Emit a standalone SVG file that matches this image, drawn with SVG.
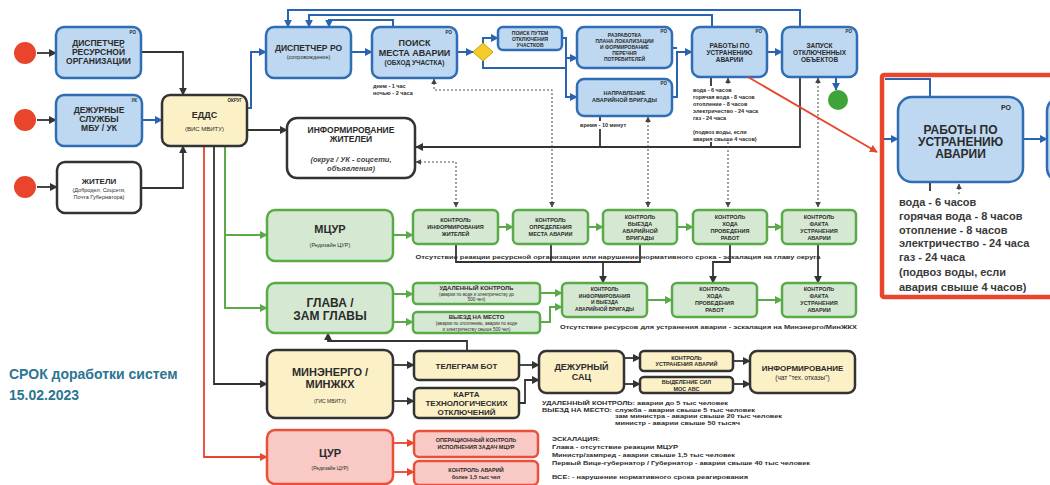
<svg xmlns="http://www.w3.org/2000/svg" width="1050" height="485" viewBox="0 0 1050 485">
<defs>
<style>
.t{font-family:"Liberation Sans",Arial,sans-serif;font-weight:bold;fill:#2b2b2b;text-anchor:middle}
.n{font-weight:normal}
.l{text-anchor:start}
.e{text-anchor:end}
.tag{font-size:4.5px;font-weight:bold}
.bl{fill:#bdd8f0;stroke:#2f6db5;stroke-width:2.5}
.gr{fill:#d5e9d2;stroke:#5aaa4a;stroke-width:2.5}
.ye{fill:#fbf0c6;stroke:#333;stroke-width:2.5}
.wh{fill:#fff;stroke:#333;stroke-width:2.5}
.pk{fill:#f8c9c5;stroke:#e8503a;stroke-width:2.5}
.cb{fill:none;stroke:#2a64b0;stroke-width:2}
.ck{fill:none;stroke:#333;stroke-width:1.8}
.cg{fill:none;stroke:#5aaa4a;stroke-width:2}
.cr{fill:none;stroke:#e8452c;stroke-width:1.8}
.cd{fill:none;stroke:#555;stroke-width:1.1;stroke-dasharray:2 2}
</style>
<marker id="ab" viewBox="0 0 10 10" refX="9" refY="5" markerWidth="8" markerHeight="8" markerUnits="userSpaceOnUse" orient="auto"><path d="M0,0 L10,5 L0,10 z" fill="#2a64b0"/></marker>
<marker id="ak" viewBox="0 0 10 10" refX="9" refY="5" markerWidth="8" markerHeight="8" markerUnits="userSpaceOnUse" orient="auto"><path d="M0,0 L10,5 L0,10 z" fill="#333"/></marker>
<marker id="ag" viewBox="0 0 10 10" refX="9" refY="5" markerWidth="8" markerHeight="8" markerUnits="userSpaceOnUse" orient="auto"><path d="M0,0 L10,5 L0,10 z" fill="#5aaa4a"/></marker>
<marker id="ar" viewBox="0 0 10 10" refX="9" refY="5" markerWidth="8" markerHeight="8" markerUnits="userSpaceOnUse" orient="auto"><path d="M0,0 L10,5 L0,10 z" fill="#e8452c"/></marker>
<marker id="ad" viewBox="0 0 10 10" refX="9" refY="5" markerWidth="6" markerHeight="6" markerUnits="userSpaceOnUse" orient="auto-start-reverse"><path d="M0,0 L10,5 L0,10 z" fill="#444"/></marker>
</defs>
<rect width="1050" height="485" fill="#fff"/>

<g id="connectors">
<path class="ck" d="M37,53 H56" marker-end="url(#ak)"/>
<path class="ck" d="M37,120 H56" marker-end="url(#ak)"/>
<path class="ck" d="M37,187 H57" marker-end="url(#ak)"/>
<path class="ck" d="M141,52 H183 V95" marker-end="url(#ak)"/>
<path class="cb" d="M142,120 H162" marker-end="url(#ab)"/>
<path class="ck" d="M141,188 H183 V146" marker-end="url(#ak)"/>
<path class="cb" d="M247,108 H251 V52 H266" marker-end="url(#ab)"/>
<path class="ck" d="M247,130 H287" marker-end="url(#ak)"/>
<path class="cg" d="M225,146 V308 H267" marker-end="url(#ag)"/>
<path class="cg" d="M225,235 H267" marker-end="url(#ag)"/>
<path class="ck" d="M214,146 V384 H267" marker-end="url(#ak)"/>
<path class="cr" d="M204,146 V457 H267" marker-end="url(#ar)"/>
<path class="cb" d="M351,52 H372" marker-end="url(#ab)"/>
<path class="cb" d="M457,52 H473" marker-end="url(#ab)"/>
<path class="cb" d="M483,43 V38 H498" marker-end="url(#ab)"/>
<path class="cb" d="M483,61 V68 H566"/>
<path class="cb" d="M562,38 H566 V97 H577" marker-end="url(#ab)"/>
<path class="cb" d="M566,58 H577" marker-end="url(#ab)"/>
<path class="cb" d="M672,97 H677 V52 H692" marker-end="url(#ab)"/>
<path class="cb" d="M672,48 H677"/>
<path class="cb" d="M767,52 H782" marker-end="url(#ab)"/>
<path class="cb" d="M836,77 V90" marker-end="url(#ab)"/>
<path class="cb" d="M800,27 V10 H288 V27" marker-end="url(#ab)"/>
<path class="cb" d="M712,27 V15 H309 V27" marker-end="url(#ab)"/>
<path class="cb" d="M393,27 V20 H329 V27" marker-end="url(#ab)"/>
<path class="ck" d="M800,77 V147 H416" marker-end="url(#ak)"/>
<path class="ck" d="M711,77 V147 M600,116 V147" stroke-width="2.2"/>
<path class="cd" d="M434,79 V90 H552 V207" marker-start="url(#ad)" marker-end="url(#ad)"/>
<path class="cd" d="M416,162 H456 V207" marker-start="url(#ad)" marker-end="url(#ad)"/>
<path class="cd" d="M648,117 V207" marker-start="url(#ad)" marker-end="url(#ad)"/>
<path class="cd" d="M728,78 V207" marker-start="url(#ad)" marker-end="url(#ad)"/>
<path class="cd" d="M818,78 V207" marker-start="url(#ad)" marker-end="url(#ad)"/>
<path class="cg" d="M393,235 H413" marker-end="url(#ag)"/>
<path class="cg" d="M498,227 H513" marker-end="url(#ag)"/>
<path class="cg" d="M588,227 H603" marker-end="url(#ag)"/>
<path class="cg" d="M677,227 H693" marker-end="url(#ag)"/>
<path class="cg" d="M767,227 H782" marker-end="url(#ag)"/>
<path class="ck" d="M456,244 V262 H640 V244 M551,244 V262" stroke-width="1.3"/>
<path class="ck" d="M603,262 V283" stroke-width="1.3" marker-end="url(#ak)"/>
<path class="ck" d="M730,244 V262 H713 V283" stroke-width="1.3" marker-end="url(#ak)"/>
<path class="ck" d="M818,244 V283" stroke-width="1.3" marker-end="url(#ak)"/>
<path class="cg" d="M393,294 H413" marker-end="url(#ag)"/>
<path class="cg" d="M393,322 H413" marker-end="url(#ag)"/>
<path class="cg" d="M540,293 H562" marker-end="url(#ag)"/>
<path class="cg" d="M540,322 H550 V307 H562" marker-end="url(#ag)"/>
<path class="cg" d="M647,300 H672" marker-end="url(#ag)"/>
<path class="cg" d="M757,300 H782" marker-end="url(#ag)"/>
<path class="ck" d="M467,351 V341 H328 V333" marker-end="url(#ak)"/>
<path class="ck" d="M393,365 H414" marker-end="url(#ak)"/>
<path class="ck" d="M393,401 H414" marker-end="url(#ak)"/>
<path class="ck" d="M519,365 H539" marker-end="url(#ak)"/>
<path class="ck" d="M519,403 H525 V380 H539" marker-end="url(#ak)"/>
<path class="ck" d="M624,358 H640" marker-end="url(#ak)"/>
<path class="ck" d="M624,384 H640" marker-end="url(#ak)"/>
<path class="ck" d="M733,361 H750" marker-end="url(#ak)"/>
<path class="ck" d="M733,384 H750" marker-end="url(#ak)"/>
<path class="cr" d="M393,443 H414" marker-end="url(#ar)"/>
<path class="cr" d="M393,472 H414" marker-end="url(#ar)"/>
</g>

<g id="start-circles">
<circle cx="25" cy="53" r="11" fill="#e8452c"/>
<circle cx="25" cy="120" r="11" fill="#e8452c"/>
<circle cx="25" cy="187" r="11" fill="#e8452c"/>
</g>

<g id="disp-res">
<rect class="bl" x="56" y="27" width="85" height="51" rx="8"/>
<text class="t tag e" x="136" y="34">РО</text>
<text class="t" x="98.5" y="46" font-size="8.5">ДИСПЕТЧЕР</text>
<text class="t" x="98.5" y="55" font-size="8.5">РЕСУРСНОЙ</text>
<text class="t" x="98.5" y="64" font-size="8.5">ОРГАНИЗАЦИИ</text>
</g>
<g id="dezhurnye">
<rect class="bl" x="56" y="95" width="86" height="51" rx="8"/>
<text class="t tag e" x="137" y="102">УК</text>
<text class="t" x="99" y="113" font-size="8.5">ДЕЖУРНЫЕ</text>
<text class="t" x="99" y="122" font-size="8.5">СЛУЖБЫ</text>
<text class="t" x="99" y="131" font-size="8.5">МБУ / УК</text>
</g>
<g id="zhiteli">
<rect class="wh" x="57" y="162" width="84" height="51" rx="8"/>
<text class="t" x="99" y="184" font-size="8">ЖИТЕЛИ</text>
<text class="t n" x="99" y="192" font-size="5.5">(Добродел, Соцсети,</text>
<text class="t n" x="99" y="199" font-size="5.5">Почта Губернатора)</text>
</g>
<g id="edds">
<rect class="ye" x="162" y="95" width="85" height="51" rx="8"/>
<text class="t tag e" x="242" y="102">ОКРУГ</text>
<text class="t" x="204.5" y="118" font-size="9">ЕДДС</text>
<text class="t n" x="204.5" y="131" font-size="6">(ВИС МВИТУ)</text>
</g>
<g id="disp-ro">
<rect class="bl" x="266" y="27" width="85" height="51" rx="8"/>
<text class="t" x="308.5" y="51" font-size="8.5">ДИСПЕТЧЕР РО</text>
<text class="t n" x="308.5" y="59" font-size="5.5">(сопровождение)</text>
</g>
<g id="poisk">
<rect class="bl" x="372" y="27" width="85" height="51" rx="8"/>
<text class="t tag e" x="452" y="34">РО</text>
<text class="t" x="414.5" y="46" font-size="9">ПОИСК</text>
<text class="t" x="414.5" y="56" font-size="9">МЕСТА АВАРИИ</text>
<text class="t" x="414.5" y="65" font-size="6.5">(ОБХОД УЧАСТКА)</text>
<text class="t l" x="373" y="88" font-size="5.5">днем - 1 час</text>
<text class="t l" x="373" y="95" font-size="5.5">ночью - 2 часа</text>
</g>
<g id="decision">
<polygon points="473,52 483,43 493,52 483,61" fill="#f5cc2a" stroke="#c9a200" stroke-width="1"/>
</g>
<g id="poisk-put">
<rect class="bl" x="498" y="27" width="64" height="23" rx="5" stroke-width="2"/>
<text class="t" x="530" y="35" font-size="5">ПОИСК ПУТЕМ</text>
<text class="t" x="530" y="41" font-size="5">ОТКЛЮЧЕНИЯ</text>
<text class="t" x="530" y="47" font-size="5">УЧАСТКОВ</text>
</g>
<g id="razrabotka">
<rect class="bl" x="577" y="27" width="95" height="41" rx="7"/>
<text class="t tag e" x="667" y="33">РО</text>
<text class="t" x="624.5" y="37" font-size="5">РАЗРАБОТКА</text>
<text class="t" x="624.5" y="43" font-size="5">ПЛАНА ЛОКАЛИЗАЦИИ</text>
<text class="t" x="624.5" y="49" font-size="5">И ФОРМИРОВАНИЕ</text>
<text class="t" x="624.5" y="55" font-size="5">ПЕРЕЧНЯ</text>
<text class="t" x="624.5" y="61" font-size="5">ПОТРЕБИТЕЛЕЙ</text>
</g>
<g id="napravlenie">
<rect class="bl" x="577" y="79" width="95" height="37" rx="7"/>
<text class="t tag e" x="667" y="85">РО</text>
<text class="t" x="624.5" y="95" font-size="5.5">НАПРАВЛЕНИЕ</text>
<text class="t" x="624.5" y="102" font-size="5.5">АВАРИЙНОЙ БРИГАДЫ</text>
<rect x="578" y="121" width="64" height="8" fill="#fff"/>
<text class="t l" x="580" y="127" font-size="5.5">время - 10 минут</text>
</g>
<g id="raboty">
<rect class="bl" x="692" y="27" width="75" height="50" rx="8"/>
<text class="t tag e" x="762" y="33">РО</text>
<text class="t" x="729.5" y="48" font-size="6.5">РАБОТЫ ПО</text>
<text class="t" x="729.5" y="55" font-size="6.5">УСТРАНЕНИЮ</text>
<text class="t" x="729.5" y="62" font-size="6.5">АВАРИИ</text>
<rect x="691" y="86" width="70" height="56" fill="#fff"/>
<text class="t l" x="693" y="92" font-size="5.5">вода - 6 часов</text>
<text class="t l" x="693" y="99" font-size="5.5">горячая вода - 8 часов</text>
<text class="t l" x="693" y="106" font-size="5.5">отопление - 8 часов</text>
<text class="t l" x="693" y="113" font-size="5.5">электричество - 24 часа</text>
<text class="t l" x="693" y="120" font-size="5.5">газ - 24 часа</text>
<text class="t l" x="693" y="134" font-size="5.5">(подвоз воды, если</text>
<text class="t l" x="693" y="141" font-size="5.5">авария свыше 4 часов)</text>
</g>
<g id="zoom-pointer">
<path class="cr" d="M748,77 L877,152" stroke-width="1.5" marker-end="url(#ar)"/>
</g>
<g id="zapusk">
<rect class="bl" x="782" y="27" width="75" height="50" rx="8"/>
<text class="t tag e" x="852" y="33">РО</text>
<text class="t" x="819.5" y="48" font-size="6.5">ЗАПУСК</text>
<text class="t" x="819.5" y="55" font-size="6.5">ОТКЛЮЧЕННЫХ</text>
<text class="t" x="819.5" y="62" font-size="6.5">ОБЪЕКТОВ</text>
</g>
<g id="end">
<circle cx="838" cy="100" r="10" fill="#3fa33a"/>
</g>
<g id="inform-zhiteley">
<rect class="wh" x="287" y="118" width="128" height="60" rx="10"/>
<text class="t" x="351" y="133" font-size="8.5">ИНФОРМИРОВАНИЕ</text>
<text class="t" x="351" y="142" font-size="8.5">ЖИТЕЛЕЙ</text>
<text class="t" x="351" y="162" font-size="7.5" font-style="italic" style="fill:#444">(округ / УК - соцсети,</text>
<text class="t" x="351" y="171" font-size="7.5" font-style="italic" style="fill:#444">объявления)</text>
</g>

<g id="mcur">
<rect class="gr" x="267" y="210" width="126" height="51" rx="8"/>
<text class="t" x="330" y="233" font-size="11">МЦУР</text>
<text class="t n" x="330" y="247" font-size="5.5">(Редизайн ЦУР)</text>
</g>
<g id="k-inf">
<rect class="gr" x="413" y="210" width="85" height="34" rx="5"/>
<text class="t" x="455.5" y="222" font-size="5.5">КОНТРОЛЬ</text>
<text class="t" x="455.5" y="229" font-size="5.5">ИНФОРМИРОВАНИЯ</text>
<text class="t" x="455.5" y="236" font-size="5.5">ЖИТЕЛЕЙ</text>
</g>
<g id="k-opred">
<rect class="gr" x="513" y="210" width="75" height="34" rx="5"/>
<text class="t" x="550.5" y="222" font-size="5.5">КОНТРОЛЬ</text>
<text class="t" x="550.5" y="229" font-size="5.5">ОПРЕДЕЛЕНИЯ</text>
<text class="t" x="550.5" y="236" font-size="5.5">МЕСТА АВАРИИ</text>
</g>
<g id="k-vyezda">
<rect class="gr" x="603" y="210" width="74" height="34" rx="5"/>
<text class="t" x="640" y="219" font-size="5.5">КОНТРОЛЬ</text>
<text class="t" x="640" y="226" font-size="5.5">ВЫЕЗДА</text>
<text class="t" x="640" y="233" font-size="5.5">АВАРИЙНОЙ</text>
<text class="t" x="640" y="240" font-size="5.5">БРИГАДЫ</text>
</g>
<g id="k-hoda">
<rect class="gr" x="693" y="210" width="74" height="34" rx="5"/>
<text class="t" x="730" y="219" font-size="5.5">КОНТРОЛЬ</text>
<text class="t" x="730" y="226" font-size="5.5">ХОДА</text>
<text class="t" x="730" y="233" font-size="5.5">ПРОВЕДЕНИЯ</text>
<text class="t" x="730" y="240" font-size="5.5">РАБОТ</text>
</g>
<g id="k-fakta">
<rect class="gr" x="782" y="210" width="74" height="34" rx="5"/>
<text class="t" x="819" y="219" font-size="5.5">КОНТРОЛЬ</text>
<text class="t" x="819" y="226" font-size="5.5">ФАКТА</text>
<text class="t" x="819" y="233" font-size="5.5">УСТРАНЕНИЯ</text>
<text class="t" x="819" y="240" font-size="5.5">АВАРИИ</text>
</g>
<text class="t" x="618" y="259" font-size="6" textLength="405" lengthAdjust="spacingAndGlyphs">Отсутствие реакции ресурсной организации или нарушение нормативного срока - эскалация на главу округа</text>

<g id="glava">
<rect class="gr" x="267" y="283" width="126" height="50" rx="8"/>
<text class="t" x="330" y="307" font-size="12">ГЛАВА /</text>
<text class="t" x="330" y="320" font-size="12">ЗАМ ГЛАВЫ</text>
</g>
<g id="udal">
<rect class="gr" x="413" y="283" width="127" height="21" rx="4" stroke-width="2"/>
<text class="t" x="476.5" y="290" font-size="6">УДАЛЕННЫЙ КОНТРОЛЬ</text>
<text class="t n" x="476.5" y="296" font-size="4.5">(аварии по воде и электричеству до</text>
<text class="t n" x="476.5" y="301" font-size="4.5">500 чел)</text>
</g>
<g id="vyezd">
<rect class="gr" x="413" y="312" width="127" height="21" rx="4" stroke-width="2"/>
<text class="t" x="476.5" y="319" font-size="6">ВЫЕЗД НА МЕСТО</text>
<text class="t n" x="476.5" y="325" font-size="4.5">(аварии по отоплению, аварии по воде</text>
<text class="t n" x="476.5" y="330.5" font-size="4.5">и электричеству свыше 500 чел)</text>
</g>
<g id="k-inf-vyezd">
<rect class="gr" x="562" y="283" width="85" height="34" rx="5"/>
<text class="t" x="604.5" y="291" font-size="5">КОНТРОЛЬ</text>
<text class="t" x="604.5" y="297.5" font-size="5">ИНФОРМИРОВАНИЯ</text>
<text class="t" x="604.5" y="304" font-size="5">И ВЫЕЗДА</text>
<text class="t" x="604.5" y="310.5" font-size="5">АВАРИЙНОЙ БРИГАДЫ</text>
</g>
<g id="k-hoda-2">
<rect class="gr" x="672" y="283" width="85" height="34" rx="5"/>
<text class="t" x="714.5" y="291" font-size="5.5">КОНТРОЛЬ</text>
<text class="t" x="714.5" y="298" font-size="5.5">ХОДА</text>
<text class="t" x="714.5" y="305" font-size="5.5">ПРОВЕДЕНИЯ</text>
<text class="t" x="714.5" y="312" font-size="5.5">РАБОТ</text>
</g>
<g id="k-fakta-2">
<rect class="gr" x="782" y="283" width="74" height="34" rx="5"/>
<text class="t" x="819" y="291" font-size="5.5">КОНТРОЛЬ</text>
<text class="t" x="819" y="298" font-size="5.5">ФАКТА</text>
<text class="t" x="819" y="305" font-size="5.5">УСТРАНЕНИЯ</text>
<text class="t" x="819" y="312" font-size="5.5">АВАРИИ</text>
</g>
<text class="t l" x="560" y="329" font-size="6" textLength="297" lengthAdjust="spacingAndGlyphs">Отсутствие ресурсов для устранения аварии - эскалация на Минэнерго/МинЖКХ</text>

<g id="minenergo">
<rect class="ye" x="267" y="350" width="126" height="68" rx="9"/>
<text class="t" x="330" y="376" font-size="11">МИНЭНЕРГО /</text>
<text class="t" x="330" y="388" font-size="11">МИНЖКХ</text>
<text class="t n" x="330" y="403" font-size="5">(ГИС МВИТУ)</text>
</g>
<g id="telegram">
<rect class="ye" x="414" y="351" width="105" height="29" rx="5"/>
<text class="t" x="466.5" y="369" font-size="8">ТЕЛЕГРАМ БОТ</text>
</g>
<g id="karta">
<rect class="ye" x="414" y="388" width="105" height="30" rx="5"/>
<text class="t" x="466.5" y="397" font-size="8">КАРТА</text>
<text class="t" x="466.5" y="406" font-size="8">ТЕХНОЛОГИЧЕСКИХ</text>
<text class="t" x="466.5" y="415" font-size="8">ОТКЛЮЧЕНИЙ</text>
</g>
<g id="sac">
<rect class="ye" x="539" y="351" width="85" height="42" rx="7"/>
<text class="t" x="581.5" y="370" font-size="9">ДЕЖУРНЫЙ</text>
<text class="t" x="581.5" y="380" font-size="9">САЦ</text>
</g>
<g id="k-ustr">
<rect class="ye" x="640" y="351" width="93" height="20" rx="4" stroke-width="2"/>
<text class="t" x="686.5" y="359.5" font-size="5.5">КОНТРОЛЬ</text>
<text class="t" x="686.5" y="366" font-size="5.5">УСТРАНЕНИЯ АВАРИЙ</text>
</g>
<g id="vydelenie">
<rect class="ye" x="640" y="377" width="93" height="16" rx="4" stroke-width="2"/>
<text class="t" x="686.5" y="384" font-size="5.5">ВЫДЕЛЕНИЕ СИЛ</text>
<text class="t" x="686.5" y="390.5" font-size="5.5">МОС АВС</text>
</g>
<g id="inform-chat">
<rect class="ye" x="750" y="351" width="105" height="42" rx="7"/>
<text class="t" x="802.5" y="371" font-size="8">ИНФОРМИРОВАНИЕ</text>
<text class="t n" x="802.5" y="380" font-size="6.5">(чат "тех. отказы")</text>
</g>
<g id="sac-notes">
<text class="t l" x="542" y="405" font-size="5.5" textLength="186" lengthAdjust="spacingAndGlyphs">УДАЛЕННЫЙ КОНТРОЛЬ: аварии до 5 тыс человек</text>
<text class="t l" x="542" y="411.5" font-size="5.5" textLength="70" lengthAdjust="spacingAndGlyphs">ВЫЕЗД НА МЕСТО:</text>
<text class="t l" x="615" y="411.5" font-size="5.5" textLength="140" lengthAdjust="spacingAndGlyphs">служба - аварии свыше 5 тыс человек</text>
<text class="t l" x="615" y="418" font-size="5.5" textLength="167" lengthAdjust="spacingAndGlyphs">зам министра - аварии свыше 20 тыс человек</text>
<text class="t l" x="615" y="425" font-size="5.5" textLength="125" lengthAdjust="spacingAndGlyphs">министр - аварии свыше 50 тысяч</text>
</g>

<g id="cur">
<rect class="pk" x="267" y="430" width="126" height="54" rx="8"/>
<text class="t" x="330" y="457" font-size="11">ЦУР</text>
<text class="t n" x="330" y="470" font-size="5">(Редизайн ЦУР)</text>
</g>
<g id="oper-kontrol">
<rect class="pk" x="414" y="431" width="124" height="26" rx="5"/>
<text class="t" x="476" y="442" font-size="5.5">ОПЕРАЦИОННЫЙ КОНТРОЛЬ</text>
<text class="t" x="476" y="449" font-size="5.5">ИСПОЛНЕНИЯ ЗАДАЧ МЦУР</text>
</g>
<g id="k-avariy">
<rect class="pk" x="414" y="461" width="124" height="24" rx="5"/>
<text class="t" x="476" y="472" font-size="5.5">КОНТРОЛЬ АВАРИЙ</text>
<text class="t" x="476" y="479" font-size="5.5">более 1,5 тыс чел</text>
</g>
<g id="escalation-notes">
<text class="t l" x="552" y="441" font-size="5.5" textLength="48" lengthAdjust="spacingAndGlyphs">ЭСКАЛАЦИЯ:</text>
<text class="t l" x="552" y="449" font-size="5.5" textLength="126" lengthAdjust="spacingAndGlyphs">Глава - отсутствие реакции МЦУР</text>
<text class="t l" x="552" y="457" font-size="5.5" textLength="183" lengthAdjust="spacingAndGlyphs">Министр/зампред - аварии свыше 1,5 тыс человек</text>
<text class="t l" x="552" y="465" font-size="5.5" textLength="258" lengthAdjust="spacingAndGlyphs">Первый Вице-губернатор / Губернатор - аварии свыше 40 тыс человек</text>
<text class="t l" x="552" y="479" font-size="5.5" textLength="196" lengthAdjust="spacingAndGlyphs">ВСЕ: - нарушение нормативного срока реагирования</text>
</g>

<g id="deadline">
<text class="t l" x="9" y="379" font-size="14" style="fill:#2c7592">СРОК доработки систем</text>
<text class="t l" x="9" y="400" font-size="14" style="fill:#2c7592">15.02.2023</text>
</g>

<g id="zoom-panel">
<rect x="882" y="75" width="200" height="222" rx="2" fill="#fff" stroke="#e8452c" stroke-width="4.5"/>
<path class="cb" d="M930,97 V79 H885" stroke-width="2.5"/>
<path class="cb" d="M884,139 H898" stroke-width="2.5" marker-end="url(#ab)"/>
<path class="cb" d="M1023,139 H1047" stroke-width="2.5" marker-end="url(#ab)"/>
<path class="ck" d="M930,182 V191" stroke-width="3"/>
<path class="cd" d="M959,184 V195" marker-start="url(#ad)"/>
<rect class="bl" x="898" y="97" width="125" height="85" rx="14" stroke-width="3"/>
<rect class="bl" x="1047" y="97" width="40" height="85" rx="14" stroke-width="3"/>
<text class="t e" x="1011" y="110" font-size="7">РО</text>
<text class="t" x="960.5" y="134" font-size="12">РАБОТЫ ПО</text>
<text class="t" x="960.5" y="146" font-size="12">УСТРАНЕНИЮ</text>
<text class="t" x="960.5" y="158" font-size="12">АВАРИИ</text>
<text class="t l" x="899" y="206" font-size="11" style="fill:#3a3a3a">вода - 6 часов</text>
<text class="t l" x="899" y="220" font-size="11" style="fill:#3a3a3a">горячая вода - 8 часов</text>
<text class="t l" x="899" y="234" font-size="11" style="fill:#3a3a3a">отопление - 8 часов</text>
<text class="t l" x="899" y="247" font-size="11" style="fill:#3a3a3a">электричество - 24 часа</text>
<text class="t l" x="899" y="261" font-size="11" style="fill:#3a3a3a">газ - 24 часа</text>
<text class="t l" x="899" y="276" font-size="11" style="fill:#3a3a3a">(подвоз воды, если</text>
<text class="t l" x="899" y="291" font-size="11" style="fill:#3a3a3a">авария свыше 4 часов)</text>
</g>
</svg>
